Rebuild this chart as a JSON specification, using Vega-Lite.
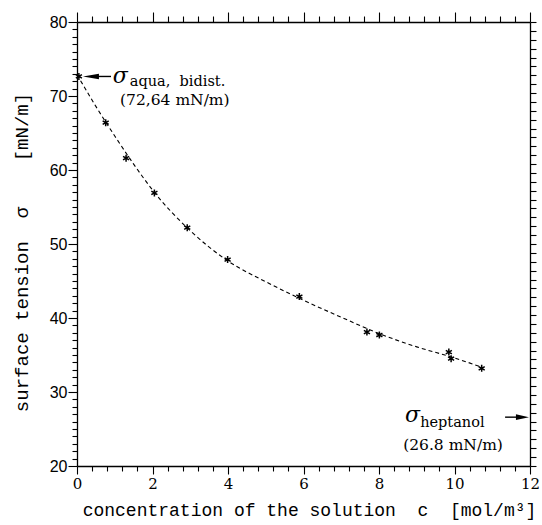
{
  "$schema": "https://vega.github.io/schema/vega-lite/v6.json",
  "width": 453,
  "height": 444,
  "autosize": "none",
  "padding": {"left": 77, "top": 22, "right": 12, "bottom": 59},
  "background": "white",
  "config": {
    "view": {"stroke": null},
    "axis": {"domainColor": "black", "domainWidth": 1.3, "tickColor": "black", "tickWidth": 1.1, "labelColor": "black", "titleColor": "black", "grid": false, "labelOverlap": false, "labelFlush": false}
  },
  "datasets": {
    "points": [
      {"c": 0.05, "s": 72.64}, {"c": 0.76, "s": 66.4}, {"c": 1.30, "s": 61.6}, {"c": 2.05, "s": 56.9},
      {"c": 2.92, "s": 52.2}, {"c": 3.99, "s": 47.9}, {"c": 5.89, "s": 42.9}, {"c": 7.68, "s": 38.1},
      {"c": 8.01, "s": 37.7}, {"c": 9.85, "s": 35.4}, {"c": 9.91, "s": 34.5}, {"c": 10.72, "s": 33.2}
    ],
    "curve": [
      {"c": 0, "s": 72.9}, {"c": 0.5, "s": 68.6}, {"c": 1, "s": 64.6}, {"c": 1.5, "s": 60.8},
      {"c": 2, "s": 57.3}, {"c": 3, "s": 51.8}, {"c": 4, "s": 47.7}, {"c": 5, "s": 44.9},
      {"c": 6, "s": 42.4}, {"c": 7, "s": 40.1}, {"c": 8, "s": 37.9}, {"c": 9, "s": 36.1},
      {"c": 10, "s": 34.6}, {"c": 10.7, "s": 33.4}
    ]
  },
  "layer": [
    {
      "data": {"name": "curve"},
      "mark": {"type": "line", "color": "black", "strokeDash": [4, 3], "strokeWidth": 1.1, "interpolate": "monotone"},
      "encoding": {
        "x": {
          "field": "c", "type": "quantitative",
          "scale": {"domain": [0, 12], "nice": false, "zero": false},
          "axis": {
            "orient": "bottom",
            "values": [0, 0.4, 0.8, 1.2, 1.6, 2, 2.4, 2.8, 3.2, 3.6, 4, 4.4, 4.8, 5.2, 5.6, 6, 6.4, 6.8, 7.2, 7.6, 8, 8.4, 8.8, 9.2, 9.6, 10, 10.4, 10.8, 11.2, 11.6, 12],
            "labelExpr": "datum.value % 2 === 0 ? format(datum.value, 'd') : ''",
            "tickSize": {"condition": {"test": "datum.value % 2 === 0", "value": 8}, "value": 5},
            "labelFont": "DejaVu Serif", "labelFontSize": 15, "labelPadding": 2,
            "title": "concentration of the solution\u00a0\u00a0c\u00a0\u00a0[mol/m³]",
            "titleFont": "Liberation Mono", "titleFontSize": 18, "titleFontWeight": "normal", "titlePadding": 10, "titleX": 232
          }
        },
        "y": {
          "field": "s", "type": "quantitative",
          "scale": {"domain": [20, 80], "nice": false, "zero": false},
          "axis": {
            "orient": "left",
            "values": [20,21,22,23,24,25,26,27,28,29,30,31,32,33,34,35,36,37,38,39,40,41,42,43,44,45,46,47,48,49,50,51,52,53,54,55,56,57,58,59,60,61,62,63,64,65,66,67,68,69,70,71,72,73,74,75,76,77,78,79,80],
            "labelExpr": "datum.value % 10 === 0 ? format(datum.value, 'd') : ''",
            "tickSize": {"condition": {"test": "datum.value % 10 === 0", "value": 9}, "value": 5},
            "labelFont": "Liberation Sans", "labelFontSize": 16, "labelPadding": 1,
            "title": "surface tension\u00a0\u00a0σ\u00a0\u00a0\u00a0\u00a0[mN/m]",
            "titleFont": "Liberation Mono", "titleFontSize": 19, "titleFontWeight": "normal", "titlePadding": 18, "titleY": 230
          }
        }
      }
    },
    {
      "data": {"name": "points"},
      "mark": {"type": "point", "shape": "M0,-1L0,1M-0.87,-0.5L0.87,0.5M-0.87,0.5L0.87,-0.5", "filled": false, "color": "black", "strokeWidth": 1.5, "size": 49, "opacity": 1},
      "encoding": {
        "x": {
          "field": "c", "type": "quantitative",
          "scale": {"domain": [0, 12], "nice": false, "zero": false},
          "axis": {
            "orient": "top", "labels": false, "title": null,
            "values": [0, 0.4, 0.8, 1.2, 1.6, 2, 2.4, 2.8, 3.2, 3.6, 4, 4.4, 4.8, 5.2, 5.6, 6, 6.4, 6.8, 7.2, 7.6, 8, 8.4, 8.8, 9.2, 9.6, 10, 10.4, 10.8, 11.2, 11.6, 12],
            "tickSize": {"condition": {"test": "datum.value % 2 === 0", "value": 10}, "value": 6}
          }
        },
        "y": {
          "field": "s", "type": "quantitative",
          "scale": {"domain": [20, 80], "nice": false, "zero": false},
          "axis": {
            "orient": "right", "labels": false, "title": null, "tickSize": 6,
            "values": [20,21.2,22.4,23.6,24.8,26,27.2,28.4,29.6,30.8,32,33.2,34.4,35.6,36.8,38,39.2,40.4,41.6,42.8,44,45.2,46.4,47.6,48.8,50,51.2,52.4,53.6,54.8,56,57.2,58.4,59.6,60.8,62,63.2,64.4,65.6,66.8,68,69.2,70.4,71.6,72.8,74,75.2,76.4,77.6,78.8,80]
          }
        }
      }
    },
    {
      "data": {"values": [{"x": 0.37, "x2": 0.9, "y": 72.64}, {"x": 11.34, "x2": 11.7, "y": 26.6}]},
      "mark": {"type": "rule", "color": "black", "strokeWidth": 1.4},
      "encoding": {
        "x": {"field": "x", "type": "quantitative", "axis": null},
        "x2": {"field": "x2"},
        "y": {"field": "y", "type": "quantitative", "axis": null}
      }
    },
    {
      "data": {"values": [{"x": 0.37, "y": 72.64}]},
      "mark": {"type": "point", "shape": "M-1,0L1,-0.35L1,0.35Z", "filled": true, "color": "black", "size": 256, "opacity": 1},
      "encoding": {
        "x": {"field": "x", "type": "quantitative", "axis": null},
        "y": {"field": "y", "type": "quantitative", "axis": null}
      }
    },
    {
      "data": {"values": [{"x": 11.8, "y": 26.6}]},
      "mark": {"type": "point", "shape": "M1,0L-1,-0.45L-1,0.45Z", "filled": true, "color": "black", "size": 170, "opacity": 1},
      "encoding": {
        "x": {"field": "x", "type": "quantitative", "axis": null},
        "y": {"field": "y", "type": "quantitative", "axis": null}
      }
    },
    {
      "data": {"values": [{"x": 0.95, "y": 71.8, "t": "σ"}, {"x": 8.69, "y": 25.95, "t": "σ"}]},
      "mark": {"type": "text", "align": "left", "baseline": "alphabetic", "font": "DejaVu Serif", "fontStyle": "italic", "fontSize": 22, "color": "black"},
      "encoding": {
        "x": {"field": "x", "type": "quantitative", "axis": null},
        "y": {"field": "y", "type": "quantitative", "axis": null},
        "text": {"field": "t"}
      }
    },
    {
      "data": {"values": [{"x": 1.40, "y": 71.3, "t": "aqua,\u00a0\u00a0bidist."}, {"x": 9.09, "y": 25.3, "t": "heptanol"}]},
      "mark": {"type": "text", "align": "left", "baseline": "alphabetic", "font": "DejaVu Serif", "fontSize": 14.5, "color": "black"},
      "encoding": {
        "x": {"field": "x", "type": "quantitative", "axis": null},
        "y": {"field": "y", "type": "quantitative", "axis": null},
        "text": {"field": "t"}
      }
    },
    {
      "data": {"values": [{"x": 1.14, "y": 68.8, "t": "(72,64 mN/m)"}, {"x": 8.64, "y": 22.2, "t": "(26.8 mN/m)"}]},
      "mark": {"type": "text", "align": "left", "baseline": "alphabetic", "font": "DejaVu Serif", "fontSize": 15.5, "color": "black"},
      "encoding": {
        "x": {"field": "x", "type": "quantitative", "axis": null},
        "y": {"field": "y", "type": "quantitative", "axis": null},
        "text": {"field": "t"}
      }
    }
  ],
  "resolve": {"axis": {"x": "independent", "y": "independent"}}
}
